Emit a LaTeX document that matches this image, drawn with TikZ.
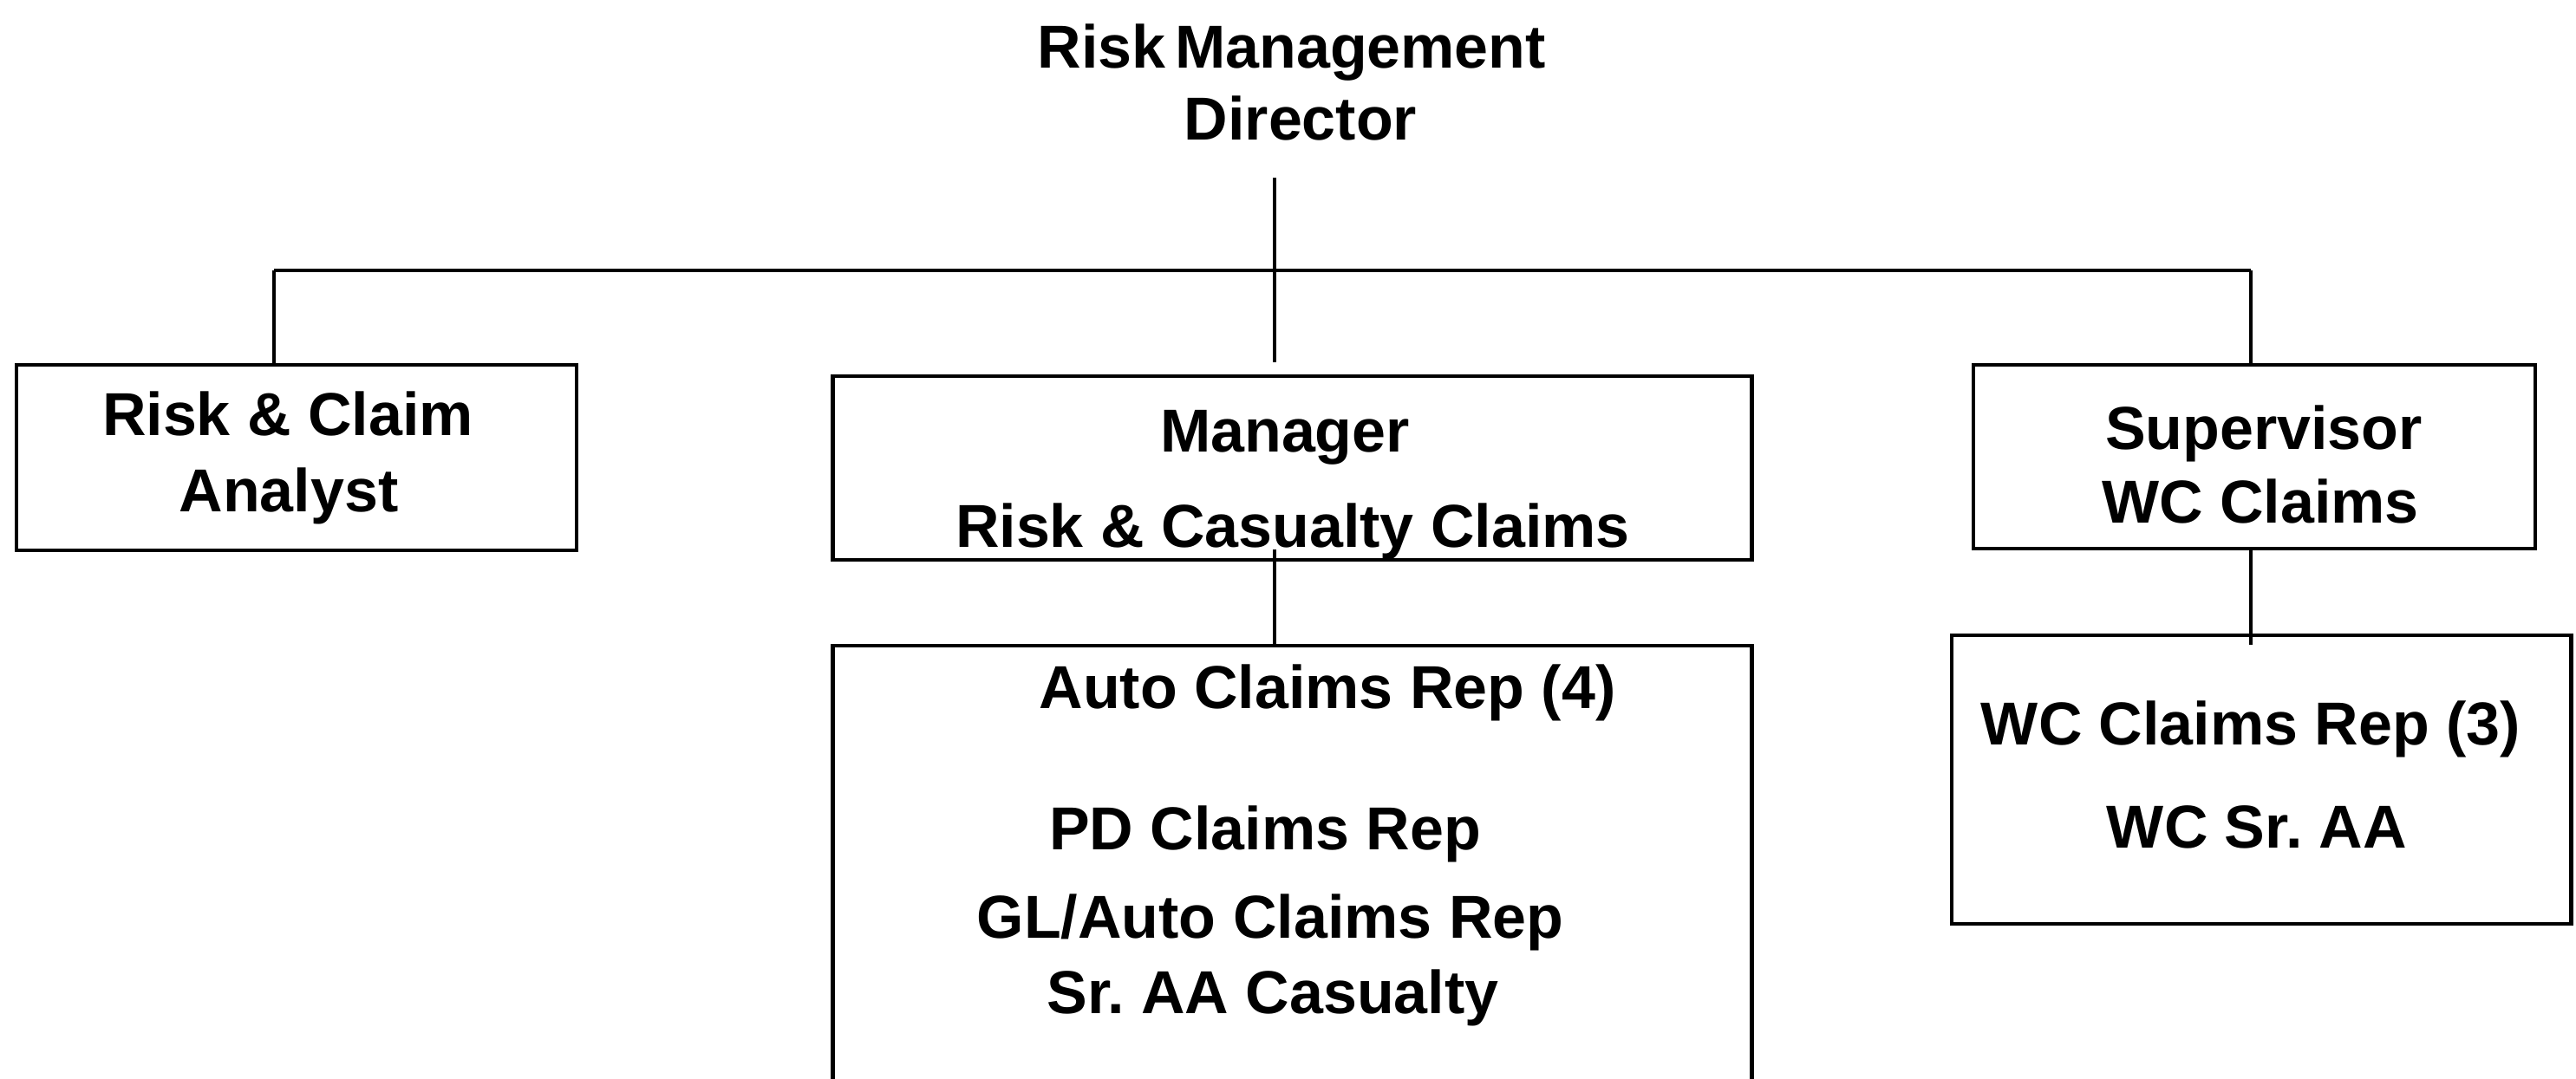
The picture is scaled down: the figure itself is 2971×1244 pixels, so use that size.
\documentclass[tikz,border=0pt]{standalone}
\usepackage{fontspec}
\setmainfont{Liberation Sans}
\frenchspacing
\begin{document}
\begin{tikzpicture}[x=0.01cm,y=-0.01cm,
  box/.style={draw=black,line width=1.3pt,inner sep=0pt,rectangle},
  lbl/.style={font=\bfseries\fontsize{19.9}{23.6}\selectfont,inner sep=0pt,anchor=base},
  conn/.style={draw=black,line width=1.3pt}]
\useasboundingbox (0,0) rectangle (2971,1244);
% boxes
\node[box,minimum width=6.46cm,minimum height=2.14cm] (rc) at (342,528) {};
\node[box,minimum width=10.59cm,minimum height=2.12cm] (mgr) at (1490.5,540) {};
\node[box,minimum width=6.48cm,minimum height=2.12cm] (sup) at (2600,527) {};
\node[box,minimum width=10.59cm,minimum height=5.02cm] (auto) at (1490.5,996) {};
\node[box,minimum width=7.14cm,minimum height=3.33cm] (wc) at (2608,899.5) {};
% named anchor coordinates
\coordinate (dirB) at (1470,205);
\coordinate (barL) at (316,312);
\coordinate (barR) at (2596,312);
\coordinate (mgrIn) at (1470,634);
\coordinate (wcIn) at (2596,744);
% connectors
\draw[conn] (dirB) -- ([yshift=0.14cm]dirB |- mgr.north);
\draw[conn] (barL) -- (barR);
\draw[conn] (barL) -- (barL |- rc.north);
\draw[conn] (barR) -- (barR |- sup.north);
\draw[conn] (mgrIn) -- (mgrIn |- auto.north);
\draw[conn] (barR |- sup.south) -- (wcIn);
% texts
\node[lbl] (t1) at (1490,78) {Risk\hspace{0.15em}Management};
\node[lbl] (t2) at (1500,161) {Director};
\node[lbl] (a1) at (332,502) {Risk \& Claim};
\node[lbl] (a2) at (333,590) {Analyst};
\node[lbl] (m1) at (1482,521) {Manager};
\node[lbl] (m2) at (1491,631) {Risk \& Casualty Claims};
\node[lbl] (s1) at (2611,518) {Supervisor};
\node[lbl] (s2) at (2607,603) {WC Claims};
\node[lbl] (r1) at (1531,817) {Auto Claims Rep (4)};
\node[lbl] (r2) at (1459,980) {PD Claims Rep};
\node[lbl] (r3) at (1465,1082) {GL/Auto Claims Rep};
\node[lbl] (r4) at (1468,1169) {Sr. AA Casualty};
\node[lbl] (w1) at (2596,859) {WC Claims Rep (3)};
\node[lbl] (w2) at (2603,978) {WC Sr. AA};
\end{tikzpicture}
\end{document}
